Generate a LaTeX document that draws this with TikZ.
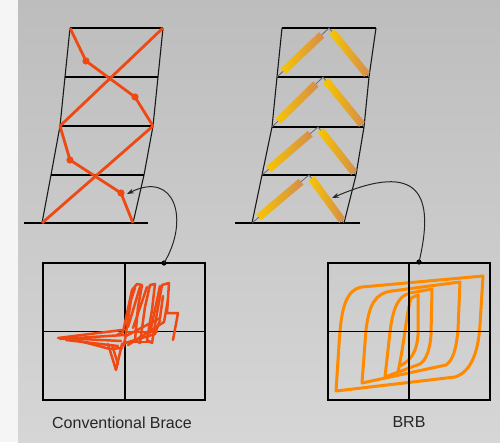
\documentclass[tikz,border=0pt]{standalone}
\usepackage{fontspec}
\setmainfont{Liberation Sans}
\usetikzlibrary{arrows.meta,calc}
\definecolor{BraceRed}{RGB}{240,72,18}
\definecolor{LoopOrange}{RGB}{255,138,0}
\definecolor{CoreYellow}{RGB}{248,198,0}
\definecolor{CoreTan}{RGB}{212,140,76}
\definecolor{PanelTop}{RGB}{189,189,189}
\definecolor{PanelBottom}{RGB}{214,214,214}

% one restrained core: name, from, to, start and end fraction
\newcommand{\brbcore}[5]{%
  \path ($(#2)!#4!(#3)$) coordinate (#1a) ($(#2)!#5!(#3)$) coordinate (#1b);
  \path let \p1=($(#1b)-(#1a)$), \n1={atan2(\y1,\x1)}, \n2={veclen(\x1,\y1)} in
    node[core,minimum width=\n2,rotate=\n1] (#1) at ($(#1a)!0.5!(#1b)$) {};}

\begin{document}
\begin{tikzpicture}[x=1pt,y=-1pt,
  column/.style={black!90,line width=1.1pt},
  beam/.style={black,line width=1.6pt},
  brace/.style={BraceRed,line width=2.8pt,line join=round},
  link/.style={black!60,line width=0.8pt},
  core/.style={rectangle,inner sep=0pt,minimum height=7.5pt,
               left color=CoreYellow,right color=CoreTan},
  plot/.style={draw=black,line width=2pt,minimum width=162pt,
               minimum height=137pt,inner sep=0pt},
  axis/.style={black,line width=1.2pt},
  trace/.style={#1,line width=2.5pt,line join=round,line cap=round},
  pointer/.style={black!85,line width=1pt,-{Stealth[length=7pt,width=5pt]}},
  caption/.style={font=\fontsize{16}{19}\selectfont,text=black!85},
]
\useasboundingbox (0,0) rectangle (500,442);
\fill[black!4] (0,0) rectangle (18,442);
\shade[top color=PanelTop,bottom color=PanelBottom] (18,0) rectangle (500,442);

%% conventional braced frame
\coordinate (la0) at (70,28);  \coordinate (ra0) at (163,28);
\coordinate (la1) at (65,77);  \coordinate (ra1) at (158,77);
\coordinate (la2) at (60,126); \coordinate (ra2) at (153,126);
\coordinate (la3) at (51,175); \coordinate (ra3) at (144,175);
\coordinate (la4) at (42,223); \coordinate (ra4) at (133,223);
\draw[column] (la0) -- (la1) -- (la2) -- (la3) -- (la4);
\draw[column] (ra0) -- (ra1) -- (ra2) -- (ra3) -- (ra4);
\foreach \i in {0,...,3}
  \draw[beam] (la\i) -- (ra\i);
\draw[beam] (24,223) -- (148,223);
% buckled braces with hinges
\coordinate (lk1) at (86,61);  \coordinate (lk2) at (135,97);
\coordinate (lk3) at (70,160); \coordinate (lk4) at (121,193);
\draw[brace] (ra0) -- (la2);
\draw[brace] (la0) -- (lk1) -- (lk2) -- (ra2);
\draw[brace] (ra2) -- (la4);
\draw[brace] (la2) -- (lk3) -- (lk4) -- (ra4);
\foreach \k in {1,...,4}
  \fill[BraceRed] (lk\k) circle (3.6);

%% BRB frame
\coordinate (lb0) at (282,28);  \coordinate (rb0) at (376,28);
\coordinate (lb1) at (277,77);  \coordinate (rb1) at (369,77);
\coordinate (lb2) at (272,127); \coordinate (rb2) at (364,127);
\coordinate (lb3) at (262,175); \coordinate (rb3) at (356,175);
\coordinate (lb4) at (252,223); \coordinate (rb4) at (344,223);
\draw[column] (lb0) -- (lb1) -- (lb2) -- (lb3) -- (lb4);
\draw[column] (rb0) -- (rb1) -- (rb2) -- (rb3) -- (rb4);
\foreach \i in {0,...,3}
  \draw[beam] (lb\i) -- (rb\i);
\draw[beam] (235,223) -- (360,223);
% chevron of cores in every storey
\foreach \i in {1,...,4} {
  \pgfmathtruncatemacro{\j}{\i-1}
  \coordinate (ap\i) at ($(lb\j)!0.5!(rb\j)$);
  \draw[link] (lb\i) -- (ap\i) -- (rb\i);
  \brbcore{cl\i}{lb\i}{ap\i}{0.12}{0.86}
  \brbcore{cr\i}{ap\i}{rb\i}{0.07}{0.95}
}

%% hysteresis of the conventional brace
\node[plot] (lplot) at (124,331.5) {};
\draw[axis] (125,263) -- (125,400);
\draw[axis] (lplot.west) -- (lplot.east);
% compression side smear
\draw[trace=BraceRed] (58,338) -- (122,330);
\draw[trace=BraceRed] (60,339) -- (124,335);
\draw[trace=BraceRed] (62,338) -- (121,341);
\draw[trace=BraceRed] (66,340) -- (118,346);
\draw[trace=BraceRed] (72,339) -- (110,349) -- (122,348);
\draw[trace=BraceRed] (108,344) -- (116,370) -- (122,344);
\draw[trace=BraceRed] (112,345) -- (118,364);
% tension side loops
\draw[trace=BraceRed] (117,335) -- (123,332) -- (132,290)
  -- (137,284) -- (142,285) -- (138,307) -- (135,340) -- (140,343) -- (145,307)
  -- (150,285) -- (155,284) -- (152,310) -- (147,340) -- (152,343) -- (157,313)
  -- (162,285) -- (169,283) -- (167,313) -- (178,313) -- (173,340);
\draw[trace=BraceRed] (128,327) -- (140,287);
\draw[trace=BraceRed] (133,328) -- (147,287);
\draw[trace=BraceRed] (150,333) -- (160,286);
\draw[trace=BraceRed] (124,346) -- (131,300) -- (135,288);
\draw[trace=BraceRed] (128,345) -- (164,322) -- (168,300);
\draw[trace=BraceRed] (126,336) -- (160,318) -- (163,296);
\draw[trace=BraceRed] (122,344) -- (155,334) -- (160,320);
\draw[trace=BraceRed] (127,332) -- (157,332);
\draw[trace=BraceRed] (124,342) -- (150,342);
\node[caption] (lcap) at (122,423) {Conventional Brace};

%% hysteresis of the BRB
\node[plot] (rplot) at (409,331.5) {};
\draw[trace=LoopOrange,line width=3pt] (336,391) -- (339,345)
  .. controls (341,310) and (345,290) .. (362,287) -- (483,276) -- (480,325)
  .. controls (478,355) and (470,372) .. (455,377) -- cycle;
\draw[trace=LoopOrange,line width=3pt] (362,383) -- (366,330)
  .. controls (369,305) and (375,293) .. (392,291) -- (460,282) -- (458,330)
  .. controls (456,350) and (453,360) .. (446,365) -- cycle;
\draw[trace=LoopOrange,line width=3pt] (385,377) -- (390,332)
  .. controls (393,308) and (398,296) .. (410,293) -- (432,289) -- (431,335)
  .. controls (430,350) and (426,360) .. (420,364) -- cycle;
\draw[trace=LoopOrange,line width=3pt] (398,372)
  .. controls (404,345) and (407,310) .. (411,298) -- (418,295) -- (418,335)
  .. controls (417,350) and (412,360) .. (400,366);
\draw[axis] (rplot.north) -- (rplot.south);
\draw[axis] (rplot.west) -- (rplot.east);
\node[caption] (rcap) at (409,422) {BRB};

%% pointers from the plots to the braces
\coordinate (ltap) at (164,263); \coordinate (lhit) at (127,194);
\coordinate (rtap) at (419,262); \coordinate (rhit) at (332,198);
\fill (ltap) circle (2.6);
\fill (rtap) circle (2.6);
\draw[pointer] (ltap) .. controls (190,220) and (175,170) .. (lhit);
\draw[pointer] (rtap) .. controls (435,195) and (420,160) .. (rhit);
\end{tikzpicture}
\end{document}
